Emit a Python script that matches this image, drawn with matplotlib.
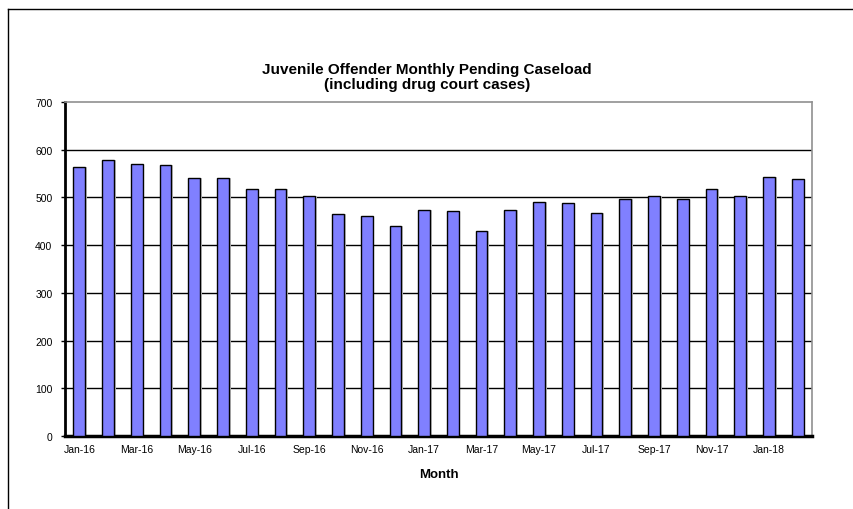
import matplotlib
matplotlib.use("Agg")
import matplotlib.pyplot as plt
from matplotlib.lines import Line2D
import numpy as np

plt.rcParams["font.family"] = ["Liberation Sans", "DejaVu Sans"]

# monthly pending caseload, Jan-16 .. Feb-18
months = ["Jan-16", "Feb-16", "Mar-16", "Apr-16", "May-16", "Jun-16", "Jul-16",
          "Aug-16", "Sep-16", "Oct-16", "Nov-16", "Dec-16", "Jan-17", "Feb-17",
          "Mar-17", "Apr-17", "May-17", "Jun-17", "Jul-17", "Aug-17", "Sep-17",
          "Oct-17", "Nov-17", "Dec-17", "Jan-18", "Feb-18"]
caseload = [563, 579, 571, 568, 540, 540, 518, 518, 504, 465, 462, 441, 473,
            471, 430, 473, 491, 488, 467, 497, 502, 497, 518, 504, 542, 539]
y_ticks = [0, 100, 200, 300, 400, 500, 600, 700]

fig = plt.figure(figsize=(8.54, 5.10), dpi=100)
ax = fig.add_axes([65 / 854, 1 - 437 / 510, 747 / 854, 334 / 510])

x = np.arange(len(months))
# faint drop shadow, then the bars
ax.bar(x + 0.06, caseload, width=0.41, color="#c8c8c8", edgecolor="none", zorder=2)
ax.bar(x, caseload, width=0.41, color="#8080ff", edgecolor="black",
       linewidth=1.0, zorder=3)

ax.set_xlim(-0.5, len(months) - 0.5)
ax.set_ylim(0, 700)
ax.set_yticks(y_ticks)
ax.set_xticks(x[::2])
ax.set_xticklabels(months[::2])
ax.tick_params(axis="x", length=0, labelsize=7.5, pad=6)
ax.tick_params(axis="y", length=3, width=1, labelsize=7.5, pad=6)

for yv in y_ticks[1:-1]:
    ax.axhline(yv, color="black", linewidth=1.0, zorder=1)

ax.spines["left"].set_linewidth(2)
ax.spines["bottom"].set_linewidth(2.5)
ax.spines["top"].set_color("#909090")
ax.spines["right"].set_color("#909090")
ax.spines["top"].set_linewidth(1.2)
ax.spines["right"].set_linewidth(1.2)

ax.set_xlabel("Month", fontsize=9.5, fontweight="bold", labelpad=10)

fig.text(0.5, 1 - 70 / 510, "Juvenile Offender Monthly Pending Caseload",
         ha="center", va="center", fontsize=11, fontweight="bold")
fig.text(0.5, 1 - 85 / 510, "(including drug court cases)",
         ha="center", va="center", fontsize=11, fontweight="bold")

# outer chart frame (top and left edges visible)
fig.add_artist(Line2D([8 / 854, 1.0], [1 - 10 / 510, 1 - 10 / 510],
                      color="black", linewidth=1.0))
fig.add_artist(Line2D([8 / 854, 8 / 854], [0.0, 1 - 10 / 510],
                      color="black", linewidth=1.0))

plt.savefig("out.png", dpi=100)
plt.close()
